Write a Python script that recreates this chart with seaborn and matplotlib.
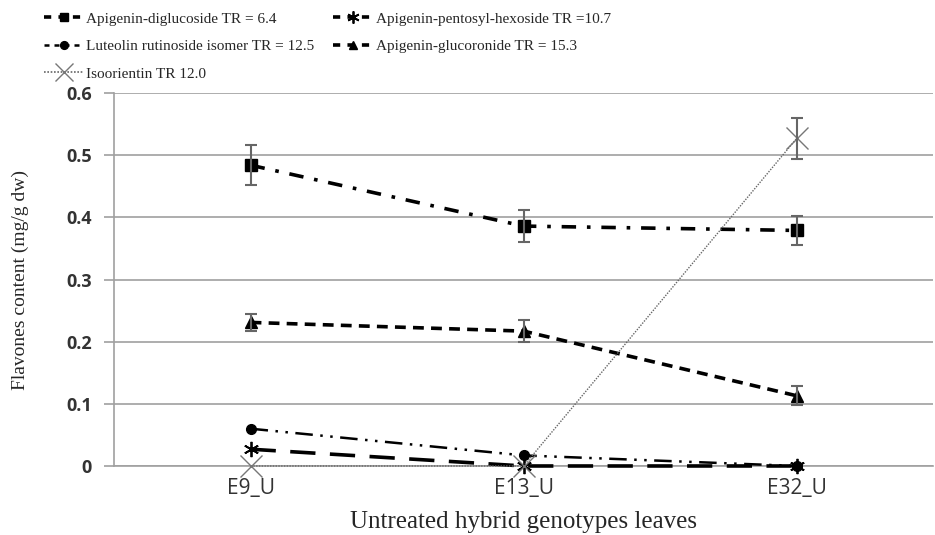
import matplotlib
matplotlib.use("Agg")
import matplotlib.pyplot as plt
import seaborn as sns
import numpy as np
import pandas as pd
from matplotlib.lines import Line2D

categories = ["E9_U", "E13_U", "E32_U"]
series_names = [
    "Apigenin-diglucoside TR = 6.4",
    "Apigenin-pentosyl-hexoside TR =10.7",
    "Luteolin rutinoside isomer TR = 12.5",
    "Apigenin-glucoronide TR = 15.3",
    "Isoorientin TR 12.0",
]
diglucoside = [0.484, 0.386, 0.379]
diglucoside_err = [0.032, 0.026, 0.024]
pentosyl = [0.027, 0.0, 0.0]
pentosyl_err = [0.0, 0.0, 0.0]
luteolin = [0.060, 0.017, 0.0]
luteolin_err = [0.0, 0.0, 0.0]
glucoronide = [0.231, 0.217, 0.113]
glucoronide_err = [0.014, 0.018, 0.015]
isoorientin = [0.0, 0.0, 0.527]
isoorientin_err = [0.0, 0.0, 0.033]

values = [diglucoside, pentosyl, luteolin, glucoronide, isoorientin]
errors = [diglucoside_err, pentosyl_err, luteolin_err, glucoronide_err, isoorientin_err]

sns.set_theme(style="white")
plt.rcParams['font.family'] = ['Liberation Serif', 'DejaVu Sans']

styles = [
    dict(color="black", lw=2.6, dashes=(4, 3, 1, 3), marker="s", ms=8, mfc="black", mec="black", mew=1),
    dict(color="black", lw=2.6, dashes=(7, 4), marker=(6, 2, 0), ms=11, mfc="black", mec="black", mew=1.3),
    dict(color="black", lw=1.8, dashes=(7, 3, 1, 3, 1, 3), marker="o", ms=7, mfc="black", mec="black", mew=1),
    dict(color="black", lw=2.6, dashes=(3, 2), marker="^", ms=8, mfc="black", mec="black", mew=1),
    dict(color="#666666", lw=1.0, dashes=(1, 1), marker="x", ms=16, mfc="#666666", mec="#777777", mew=1.0),
]

fig = plt.figure(figsize=(9.35, 5.35), dpi=100)
ax = fig.add_axes([0.122, 0.129, 0.876, 0.697])

x = np.arange(len(categories))
handles = []
for name, vals, errs, st in zip(series_names, values, errors, styles):
    df = pd.DataFrame({"x": x, "y": vals})
    sns.lineplot(data=df, x="x", y="y", ax=ax, color=st["color"], lw=st["lw"],
                 dashes=False, marker=st["marker"], markersize=st["ms"],
                 markerfacecolor=st["mfc"], markeredgecolor=st["mec"],
                 markeredgewidth=st["mew"], zorder=3, clip_on=False)
    line = ax.get_lines()[-1]
    line.set_dashes(st["dashes"])
    line.set_clip_on(False)
    errs = np.array(errs)
    mask = errs > 0
    if mask.any():
        ax.errorbar(x[mask], np.array(vals)[mask], yerr=errs[mask], fmt="none",
                    ecolor="#666666", elinewidth=1.5, capsize=4.5, capthick=1.5, zorder=4)
    h = Line2D([0], [0], color=st["color"], lw=st["lw"] if st["lw"] > 1.5 else 1.2,
               marker=st["marker"], markersize=st["ms"] * 0.8,
               markerfacecolor=st["mfc"], markeredgecolor=st["mec"], markeredgewidth=st["mew"])
    h.set_dashes((2, 2) if st["lw"] > 1.5 else (1, 1))
    handles.append(h)

ax.set_xlim(-0.5, 2.5)
ax.set_ylim(0, 0.6)
ax.set_yticks(np.arange(0, 0.61, 0.1))
ax.set_yticklabels(["0", "0.1", "0.2", "0.3", "0.4", "0.5", "0.6"],
                   fontfamily="Open Sans", fontsize=13, fontweight="bold", color="#333333")
ax.set_xticks(x)
ax.set_xticklabels(categories, fontfamily="Open Sans", fontsize=15, color="#333333")
ax.grid(axis="y", color="#a0a0a0", lw=1.2)
ax.grid(axis="x", visible=False)
for s in ["top", "right"]:
    ax.spines[s].set_visible(False)
ax.spines["left"].set_color("#a0a0a0")
ax.spines["left"].set_linewidth(1.2)
ax.spines["bottom"].set_color("#a0a0a0")
ax.spines["bottom"].set_linewidth(1.2)
ax.tick_params(axis="y", length=7, color="#a0a0a0", width=1.2, pad=9, left=True)
ax.tick_params(axis="x", length=0, pad=9)
ax.set_xlabel("Untreated hybrid genotypes leaves", fontsize=18, labelpad=8)
ax.set_ylabel("Flavones content (mg/g dw)", fontsize=14, labelpad=27)

order = [0, 2, 4, 1, 3]
leg = fig.legend([handles[i] for i in order], [series_names[i] for i in order],
                 loc="upper left", bbox_to_anchor=(0.032, 1.003), ncol=2, frameon=False,
                 fontsize=11, handlelength=2.6, handletextpad=0.2, columnspacing=1.2,
                 labelspacing=0.9)

fig.savefig("out.png", dpi=100)
